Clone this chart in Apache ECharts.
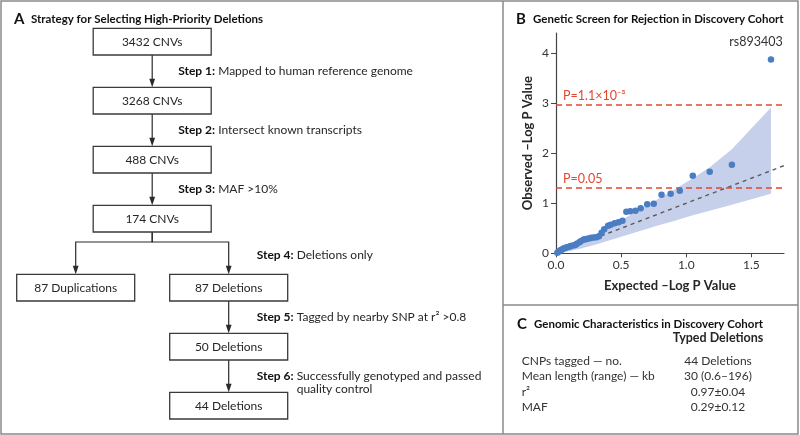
<!DOCTYPE html>
<html><head><meta charset="utf-8">
<script src="https://cdn.jsdelivr.net/npm/echarts@6/dist/echarts.min.js"></script>
<style>html,body{margin:0;padding:0;background:#fff}#c{width:800px;height:435px}</style>
</head><body><div id="c"></div>
<script>
// ---------- Panel A data ----------
const flowBoxes = ['3432 CNVs','3268 CNVs','488 CNVs','174 CNVs','87 Duplications','87 Deletions','50 Deletions','44 Deletions'];
const flowEdges = [[0,1],[1,2],[2,3],[3,4],[3,5],[5,6],[6,7]];
const flowStepLabels = ['Step 1:','Step 2:','Step 3:','Step 4:','Step 5:','Step 6:'];
const flowStepTexts = ['Mapped to human reference genome','Intersect known transcripts','MAF >10%','Deletions only','Tagged by nearby SNP at r\u00b2 >0.8','Successfully genotyped and passed\nquality control'];
const flowStepEdges = [[0,1],[1,2],[2,3],[3,5],[5,6],[6,7]];

// ---------- Panel B data ----------
const expectedLogP = [1.65,1.35,1.18,1.05,0.95,0.88,0.81,0.75,0.70,0.65,0.61,0.57,0.54,0.51,0.48,0.45,0.42,0.40,0.37,0.35,0.33,0.31,0.29,0.27,0.26,0.24,0.22,0.21,0.19,0.18,0.16,0.15,0.14,0.12,0.11,0.10,0.085,0.073,0.062,0.051,0.040,0.030,0.020,0.010];
const observedLogP = [3.87,1.77,1.63,1.55,1.25,1.19,1.17,0.99,0.98,0.90,0.85,0.84,0.83,0.65,0.62,0.60,0.57,0.55,0.48,0.41,0.34,0.32,0.315,0.31,0.30,0.29,0.28,0.27,0.24,0.22,0.19,0.17,0.16,0.15,0.14,0.13,0.12,0.11,0.10,0.08,0.07,0.05,0.03,0.01];
const bandX     = [0, 0.1, 0.2, 0.3, 0.4, 0.5, 0.6, 0.7, 0.8, 0.9, 0.95, 1.05, 1.18, 1.35, 1.65];
const bandUpper = [0, 0.13, 0.25, 0.37, 0.51, 0.66, 0.81, 0.96, 1.11, 1.26, 1.34, 1.50, 1.72, 2.08, 2.91];
const bandLower = [0, 0.04, 0.10, 0.17, 0.25, 0.33, 0.41, 0.49, 0.57, 0.64, 0.68, 0.76, 0.85, 0.97, 1.19];
const diagonalLine = [0, 1.75];
const thresholdValues = [2.958, 1.301];
const thresholdLabels = ['P=1.1\u00d710\u207b\u00b3', 'P=0.05'];
const topHitLabel = 'rs893403';
const xTickValues = [0, 0.5, 1.0, 1.5];
const yTickValues = [0, 1, 2, 3, 4];

// ---------- Panel C data ----------
const tableHeader = 'Typed Deletions';
const tableRows = ['CNPs tagged \u2014 no.', 'Mean length (range) \u2014 kb', 'r\u00b2', 'MAF'];
const tableValues = ['44 Deletions', '30 (0.6\u2013196)', '0.97\u00b10.04', '0.29\u00b10.12'];

// ---------- layout / styles ----------
const FONT = 'Lato, "Noto Sans", sans-serif';
const TXT = '#262626';
const flowLayout = { col: [0,0,0,0,-1,1,1,1], row: [0,1,2,3,4.17,4.17,5.17,6.17] };
const BOX_W = 118, BOX_H = 26.7;
const FRAME = '#8a8a8a';
const STEP_FS = 12;

const measureCtx = document.createElement('canvas').getContext('2d');
measureCtx.font = 'bold ' + STEP_FS + 'px Lato';
const spaceW = (() => { measureCtx.font = STEP_FS + 'px Lato'; const w = measureCtx.measureText(' ').width; measureCtx.font = 'bold ' + STEP_FS + 'px Lato'; return w; })();

function titleText(letter, text) {
  return '{l|' + letter + '}{t|' + text + '}';
}
const titleRich = {
  l: { fontFamily: FONT, fontWeight: 'bold', fontSize: 15, color: '#111', width: 17 },
  t: { fontFamily: FONT, fontWeight: 'bold', fontSize: 11.5, color: '#111' }
};

const chart = echarts.init(document.getElementById('c'));

const option = {
  animation: false,
  backgroundColor: '#fff',
  title: [
    { text: titleText('A', 'Strategy for Selecting High-Priority Deletions'), left: 9, top: 7, textStyle: { rich: titleRich } },
    { text: titleText('B', 'Genetic Screen for Rejection in Discovery Cohort'), left: 511, top: 7, textStyle: { rich: titleRich } },
    { text: titleText('C', 'Genomic Characteristics in Discovery Cohort'), left: 512, top: 312, textStyle: { rich: titleRich } }
  ],
  graphic: [
    { type: 'rect', silent: true, shape: { x: 1, y: 1, width: 797, height: 433 }, style: { fill: 'none', stroke: FRAME, lineWidth: 1.5 } },
    { type: 'line', silent: true, shape: { x1: 503, y1: 1, x2: 503, y2: 434 }, style: { stroke: FRAME, lineWidth: 1.5 } },
    { type: 'line', silent: true, shape: { x1: 503, y1: 305, x2: 798, y2: 305 }, style: { stroke: FRAME, lineWidth: 1.5 } }
  ],
  grid: [
    { left: 556, top: 33, width: 228, height: 220.3 },           // B
    { left: 75.7, top: 28.3, width: 153, height: 364 },          // A (flow layout)
    { left: 656, top: 353.25, width: 124, height: 62 }           // C (table)
  ],
  xAxis: [
    {
      gridIndex: 0, type: 'value', min: 0, max: 1.75,
      name: 'Expected \u2013Log P Value', nameLocation: 'middle', nameGap: 26,
      nameTextStyle: { fontFamily: FONT, fontWeight: 'bold', fontSize: 13, color: TXT },
      axisLine: { lineStyle: { color: '#444', width: 1.2 } },
      axisTick: { customValues: xTickValues, length: 4, lineStyle: { color: '#444' } },
      axisLabel: { customValues: xTickValues, formatter: v => v.toFixed(1), fontFamily: FONT, fontSize: 12, color: '#333', margin: 6 },
      splitLine: { show: false }
    },
    { gridIndex: 1, type: 'value', min: -1, max: 1, show: false },
    {
      gridIndex: 2, type: 'value', min: 0, max: 1, position: 'top',
      name: tableHeader, nameLocation: 'middle', nameGap: 9,
      nameTextStyle: { fontFamily: FONT, fontWeight: 'bold', fontSize: 12.5, color: TXT },
      axisLine: { show: false }, axisTick: { show: false }, axisLabel: { show: false }, splitLine: { show: false }
    }
  ],
  yAxis: [
    {
      gridIndex: 0, type: 'value', min: 0, max: 4.4,
      name: 'Observed \u2013Log P Value', nameLocation: 'middle', nameGap: 22,
      nameTextStyle: { fontFamily: FONT, fontWeight: 'bold', fontSize: 13, color: TXT },
      axisLine: { show: true, lineStyle: { color: '#444', width: 1.2 } },
      axisTick: { show: true, customValues: yTickValues, length: 5, lineStyle: { color: '#444' } },
      axisLabel: { customValues: yTickValues, fontFamily: FONT, fontSize: 12, color: '#333', margin: 7 },
      splitLine: { show: false }
    },
    { gridIndex: 1, type: 'value', min: 0, max: 6.17, inverse: true, show: false },
    {
      gridIndex: 2, type: 'category', inverse: true, data: tableRows,
      axisLine: { show: false }, axisTick: { show: false },
      axisLabel: { interval: 0, align: 'left', margin: 134.3, fontFamily: FONT, fontSize: 12, color: '#333' },
      splitLine: { show: false }
    }
  ],
  series: [
    // ---- Panel B: confidence band ----
    {
      type: 'custom', xAxisIndex: 0, yAxisIndex: 0, z: 1, silent: true,
      data: bandX.map((x, i) => [x, bandLower[i], bandUpper[i]]),
      encode: { x: 0, y: [1, 2] },
      renderItem: function (params, api) {
        if (params.dataIndex !== 0) return null;
        const pts = [];
        for (let i = 0; i < bandX.length; i++) pts.push(api.coord([bandX[i], bandUpper[i]]));
        for (let i = bandX.length - 1; i >= 0; i--) pts.push(api.coord([bandX[i], bandLower[i]]));
        return { type: 'polygon', shape: { points: pts }, style: { fill: '#c7d0ea' } };
      }
    },
    // ---- Panel B: expected diagonal + thresholds ----
    {
      type: 'line', xAxisIndex: 0, yAxisIndex: 0, z: 2, silent: true,
      data: [[diagonalLine[0], diagonalLine[0]], [diagonalLine[1], diagonalLine[1]]],
      symbol: 'none',
      lineStyle: { color: '#5a5a5a', width: 1.4, type: [4, 4] },
      markLine: {
        silent: true, symbol: 'none',
        lineStyle: { color: '#e2472f', width: 1.5, type: [6, 4] },
        label: { position: 'insideStartTop', distance: [7, 3], color: '#e2472f', fontFamily: FONT, fontSize: 12.5 },
        data: thresholdValues.map((v, i) => ({ yAxis: v, label: { formatter: thresholdLabels[i] } }))
      }
    },
    // ---- Panel B: observed points ----
    {
      type: 'scatter', xAxisIndex: 0, yAxisIndex: 0, z: 5,
      symbolSize: 6.5,
      itemStyle: { color: '#4b7dc3', opacity: 1 },
      data: expectedLogP.map((x, i) => {
        const d = { value: [x, observedLogP[i]] };
        if (i === 0) d.label = { show: true, position: 'top', offset: [-15, -3], formatter: topHitLabel, fontFamily: FONT, fontSize: 12.5, color: '#333' };
        return d;
      })
    },
    // ---- Panel A: arrows ----
    {
      type: 'custom', xAxisIndex: 1, yAxisIndex: 1, silent: true, z: 3,
      data: flowEdges.map(e => [0, 0]),
      renderItem: function (params, api) {
        const [a, b] = flowEdges[params.dataIndex];
        const pa = api.coord([flowLayout.col[a], flowLayout.row[a]]);
        const pb = api.coord([flowLayout.col[b], flowLayout.row[b]]);
        const y0 = pa[1] + BOX_H, y1 = pb[1];
        const AH = 8.5, AW = 2.9;
        let pts;
        if (Math.abs(pa[0] - pb[0]) < 0.5) pts = [[pa[0], y0], [pb[0], y1 - AH + 1]];
        else { const yb = y0 + 10; pts = [[pa[0], y0], [pa[0], yb], [pb[0], yb], [pb[0], y1 - AH + 1]]; }
        return { type: 'group', children: [
          { type: 'polyline', shape: { points: pts }, style: { stroke: '#2a2a2a', lineWidth: 1.2, fill: null } },
          { type: 'polygon', shape: { points: [[pb[0] - AW, y1 - AH], [pb[0] + AW, y1 - AH], [pb[0], y1]] }, style: { fill: '#2a2a2a' } }
        ] };
      }
    },
    // ---- Panel A: boxes ----
    {
      type: 'custom', xAxisIndex: 1, yAxisIndex: 1, silent: true, z: 4,
      data: flowBoxes.map((t, i) => [flowLayout.col[i], flowLayout.row[i]]),
      renderItem: function (params, api) {
        const p = api.coord([api.value(0), api.value(1)]);
        return { type: 'group', children: [
          { type: 'rect', shape: { x: p[0] - BOX_W / 2, y: p[1], width: BOX_W, height: BOX_H }, style: { fill: '#fff', stroke: '#3a3a3a', lineWidth: 1.3 } },
          { type: 'text', x: p[0], y: p[1] + BOX_H / 2 + 0.5, style: { text: flowBoxes[params.dataIndex], align: 'center', verticalAlign: 'middle', fontFamily: FONT, fontSize: 12, fill: TXT } }
        ] };
      }
    },
    // ---- Panel A: step labels ----
    {
      type: 'custom', xAxisIndex: 1, yAxisIndex: 1, silent: true, z: 4,
      data: flowStepEdges.map(e => [0, 0]),
      renderItem: function (params, api) {
        const i = params.dataIndex;
        const [a, b] = flowStepEdges[i];
        const pa = api.coord([flowLayout.col[a], flowLayout.row[a]]);
        const pb = api.coord([flowLayout.col[b], flowLayout.row[b]]);
        const branch = Math.abs(pa[0] - pb[0]) > 0.5;
        const y = (pa[1] + BOX_H + pb[1]) / 2 + (branch ? 2 : 0);
        const x = pb[0] + (flowLayout.col[b] > 0 ? 28 : 26);
        const lw = measureCtx.measureText(flowStepLabels[i]).width + spaceW;
        const dx = Math.max(39, lw);
        return { type: 'group', children: [
          { type: 'text', x: x, y: y, style: { text: flowStepLabels[i], align: 'left', verticalAlign: 'middle', fontFamily: FONT, fontWeight: 'bold', fontSize: STEP_FS, fill: '#111' } },
          { type: 'text', x: x + dx, y: y - 6.5, style: { text: flowStepTexts[i], align: 'left', verticalAlign: 'top', lineHeight: 13, fontFamily: FONT, fontSize: STEP_FS, fill: TXT } }
        ] };
      }
    },
    // ---- Panel C: table values ----
    {
      type: 'custom', xAxisIndex: 2, yAxisIndex: 2, silent: true,
      data: tableValues.map((v, i) => [0.5, i]),
      renderItem: function (params, api) {
        const p = api.coord([api.value(0), api.value(1)]);
        return { type: 'text', x: p[0], y: p[1], style: { text: tableValues[params.dataIndex], align: 'center', verticalAlign: 'middle', fontFamily: FONT, fontSize: 12, fill: '#333' } };
      }
    }
  ]
};
chart.setOption(option);
</script>
</body></html>
